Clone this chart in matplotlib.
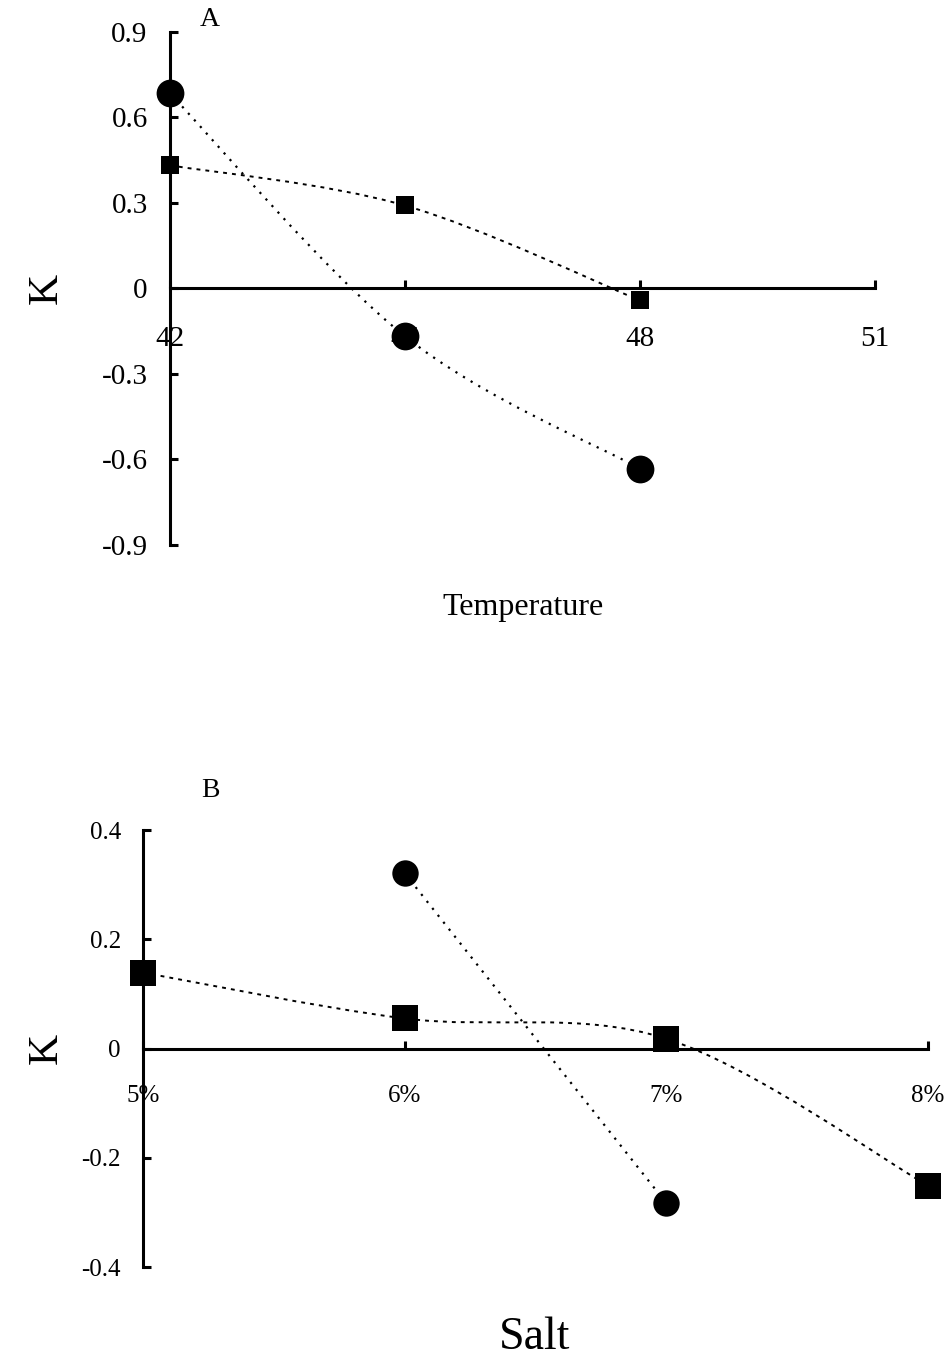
import matplotlib
matplotlib.use("Agg")
from matplotlib import pyplot as plt
from matplotlib.path import Path
from matplotlib.patches import PathPatch

# panel A: temperature
temps = [42, 45, 48]
temp_ticks = [42, 45, 48, 51]
temp_circle = [0.684, -0.168, -0.632]
temp_square = [0.432, 0.291, -0.042]
temp_yticks = [0.9, 0.6, 0.3, 0, -0.3, -0.6, -0.9]

# panel B: salt
salt_x = [5, 6, 7, 8]
salt_labels = ['5%', '6%', '7%', '8%']
salt_circle_x = [6, 7]
salt_circle = [0.321, -0.283]
salt_square = [0.139, 0.055, 0.018, -0.251]
salt_yticks = [0.4, 0.2, 0, -0.2, -0.4]

plt.rcParams['font.family'] = ['Liberation Serif', 'DejaVu Serif']


def smooth_path(xs, ys):
    # smoothed line through the points (cubic bezier, like a spreadsheet "smooth line")
    pts = list(zip(xs, ys))
    verts = [pts[0]]
    codes = [Path.MOVETO]
    n = len(pts)
    for i in range(n - 1):
        p0 = pts[max(i - 1, 0)]
        p1 = pts[i]
        p2 = pts[i + 1]
        p3 = pts[min(i + 2, n - 1)]
        c1 = (p1[0] + (p2[0] - p0[0]) / 6, p1[1] + (p2[1] - p0[1]) / 6)
        c2 = (p2[0] - (p3[0] - p1[0]) / 6, p2[1] - (p3[1] - p1[1]) / 6)
        verts += [c1, c2, p2]
        codes += [Path.CURVE4] * 3
    return Path(verts, codes)


def style_axes(ax, xlim, ylim, xticks, xlabels, yticks, tick_fs, xpad):
    ax.set_xlim(*xlim)
    ax.set_ylim(*ylim)
    for s in ['top', 'right']:
        ax.spines[s].set_visible(False)
    ax.spines['bottom'].set_position(('data', 0))
    ax.spines['left'].set_linewidth(2.2)
    ax.spines['bottom'].set_linewidth(2.2)
    ax.set_xticks(xticks)
    ax.set_xticklabels(xlabels)
    ax.set_yticks(yticks)
    ax.set_yticklabels(['%g' % v for v in yticks])
    ax.tick_params(axis='both', direction='in', length=6, width=2.2,
                   labelsize=tick_fs)
    ax.tick_params(axis='x', pad=xpad)
    ax.tick_params(axis='y', pad=16)


dotted = (0, (1, 3))
dashed = (0, (2, 2.6))

fig = plt.figure(figsize=(9.5, 13.58), dpi=100)

# ---- A ----
ax1 = fig.add_axes([0.1789, 0.5987, 0.7421, 0.3778])
style_axes(ax1, (42, 51), (-0.9, 0.9), temp_ticks,
           [str(t) for t in temp_ticks], temp_yticks, 21, 27)
ax1.add_patch(PathPatch(smooth_path(temps, temp_circle), fill=False, lw=1.6,
                        ls=dotted, color='black', zorder=4, clip_on=False))
ax1.add_patch(PathPatch(smooth_path(temps, temp_square), fill=False, lw=1.4,
                        ls=dashed, color='black', zorder=4, clip_on=False))
ax1.plot(temps, temp_circle, 'o', color='black', markersize=20, mew=0,
         zorder=5, clip_on=False)
ax1.plot(temps, temp_square, 's', color='black', markersize=13, mew=0,
         zorder=5, clip_on=False)

fig.text(210 / 950, 1 - 20 / 1358, 'A', fontsize=20, ha='center', va='center')
fig.text(46 / 950, 1 - 288 / 1358, 'K', fontsize=31, rotation=90,
         ha='center', va='center')
fig.text(523 / 950, 1 - 607 / 1358, 'Temperature', fontsize=23,
         ha='center', va='center')

# ---- B ----
ax2 = fig.add_axes([0.1505, 0.0670, 0.8263, 0.3218])
style_axes(ax2, (5, 8), (-0.4, 0.4), salt_x, salt_labels, salt_yticks, 18, 26)
ax2.add_patch(PathPatch(smooth_path(salt_circle_x, salt_circle), fill=False, lw=1.6,
                        ls=dotted, color='black', zorder=4, clip_on=False))
ax2.add_patch(PathPatch(smooth_path(salt_x, salt_square), fill=False, lw=1.4,
                        ls=dashed, color='black', zorder=4, clip_on=False))
ax2.plot(salt_circle_x, salt_circle, 'o', color='black', markersize=19, mew=0,
         zorder=5, clip_on=False)
ax2.plot(salt_x, salt_square, 's', color='black', markersize=19, mew=0,
         zorder=5, clip_on=False)

fig.text(210 / 950, 1 - 790 / 1358, 'B', fontsize=20, ha='center', va='center')
fig.text(46 / 950, 1 - 1048 / 1358, 'K', fontsize=31, rotation=90,
         ha='center', va='center')
fig.text(535 / 950, 1 - 1338 / 1358, 'Salt', fontsize=33,
         ha='center', va='center')

fig.savefig('out.png', dpi=100)
